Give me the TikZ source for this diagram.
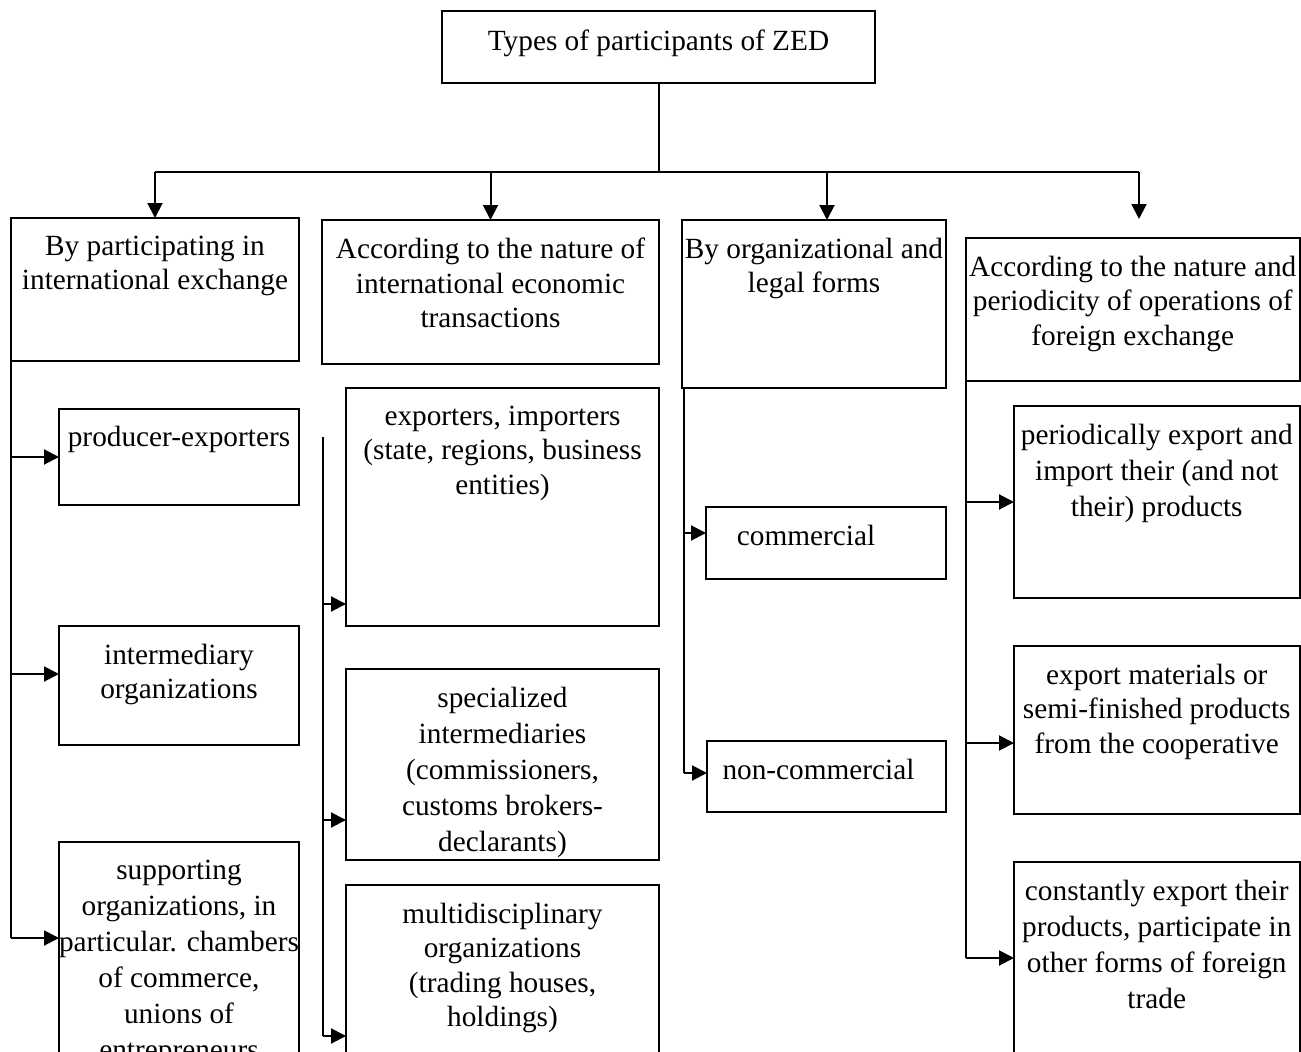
\documentclass[tikz,border=0pt]{standalone}
\usepackage{fontspec}
\setmainfont{Liberation Serif}
\usepackage{tikz}
\usetikzlibrary{positioning,calc}
\usetikzlibrary{arrows.meta}
\tikzset{
  box/.style={draw=black,line width=2pt,anchor=north west,inner sep=0pt,outer sep=0pt},
  txt/.style={anchor=north,align=center,inner sep=0pt,
    font=\fontsize{29.3}{34.5}\selectfont,execute at begin node=\strut},
  loose/.style={font=\fontsize{29.3}{36}\selectfont},
  ln/.style={draw=black,line width=2pt},
  arr/.style={draw=black,line width=2pt,-{Triangle[length=15pt,width=15pt]}},
}

\begin{document}
\begin{tikzpicture}[x=1pt,y=-1pt]
\useasboundingbox (0,0) rectangle (1301,1052);
\clip (0,0) rectangle (1301,1052);
% top
\node[box,minimum width=433,minimum height=72] (top) at (442,11) {};
\node[txt] (topt) at ([yshift=-14.8]top.north) {Types of participants of ZED};
% groups
\node[box,minimum width=288,minimum height=143] (b1) at (11,218) {};
\node[box,minimum width=337,minimum height=144] (b2) at (322,220) {};
\node[box,minimum width=264,minimum height=168] (b3) at (682,220) {};
\node[box,minimum width=333.5,minimum height=143] (b4) at (966,238) {};
\node[txt] (b1t) at ([yshift=-17.8]b1.north) {By participating in\\international exchange};
\node[txt] (b2t) at ([yshift=-17.8]b2.north) {According to the nature of\\international economic\\transactions};
\node[txt] (b3t) at ([yshift=-17.8]b3.north) {By organizational and\\legal forms};
\node[txt] (b4t) at ([yshift=-17.8]b4.north) {According to the nature and\\periodicity of operations of\\foreign exchange};
% column 1
\node[box,minimum width=240,minimum height=96] (p1) at (59,409) {};
\node[box,minimum width=240,minimum height=119] (p2) at (59,626) {};
\node[box,minimum width=240,minimum height=260] (p3) at (59,842) {};
\node[txt] (p1t) at ([yshift=-12.8]p1.north) {producer-exporters};
\node[txt] (p2t) at ([yshift=-17.8]p2.north) {intermediary\\organizations};
\node[txt,loose] (p3t) at ([yshift=-17.8]p3.north) {supporting\\organizations, in\\particular. chambers\\of commerce,\\unions of\\entrepreneurs};
% column 2
\node[box,minimum width=313,minimum height=238] (t1) at (346,388) {};
\node[box,minimum width=313,minimum height=191] (t2) at (346,669) {};
\node[box,minimum width=313,minimum height=215] (t3) at (346,885) {};
\node[txt] (t1t) at ([yshift=-17.8]t1.north) {exporters, importers\\(state, regions, business\\entities)};
\node[txt,loose] (t2t) at ([yshift=-17.8]t2.north) {specialized\\intermediaries\\(commissioners,\\customs brokers-\\declarants)};
\node[txt] (t3t) at ([yshift=-17.8]t3.north) {multidisciplinary\\organizations\\(trading houses,\\holdings)};
% column 3
\node[box,minimum width=240,minimum height=72] (f1) at (706,507) {};
\node[box,minimum width=239,minimum height=71] (f2) at (707,741) {};
\node[txt] (f1t) at ([xshift=-20,yshift=-13.8]f1.north) {commercial};
\node[txt] (f2t) at ([xshift=-8,yshift=-13.8]f2.north) {non-commercial};
% column 4
\node[box,minimum width=285.5,minimum height=192] (o1) at (1014,406) {};
\node[box,minimum width=285.5,minimum height=168] (o2) at (1014,646) {};
\node[box,minimum width=285.5,minimum height=240] (o3) at (1014,862) {};
\node[txt,loose] (o1t) at ([yshift=-17.8]o1.north) {periodically export and\\import their (and not\\their) products};
\node[txt] (o2t) at ([yshift=-17.8]o2.north) {export materials or\\semi-finished products\\from the cooperative};
\node[txt,loose] (o3t) at ([yshift=-17.8]o3.north) {constantly export their\\products, participate in\\other forms of foreign\\trade};
% tree
\coordinate (hub) at (top.south |- 0,172);
\coordinate (q4) at (1139,219);
\draw[ln] (top.south) -- (hub);
\draw[ln] (b1.north |- hub) -- (q4 |- hub);
\draw[arr] (b1.north |- hub) -- (b1.north);
\draw[arr] (b2.north |- hub) -- (b2.north);
\draw[arr] ([xshift=13]b3.north |- hub) -- ([xshift=13]b3.north);
\draw[arr] (q4 |- hub) -- (q4);
% branches 1
\draw[ln] (b1.south west) -- (b1.south west |- 0,938);
\draw[arr] (b1.south west |- p1.west) -- (p1.west);
\draw[arr] (b1.south west |- 0,674) -- (p2.west |- 0,674);
\draw[arr] (b1.south west |- 0,938) -- (p3.west |- 0,938);
% branches 2
\coordinate (m0) at (323,437);
\draw[ln] (m0) -- (m0 |- 0,1036);
\draw[arr] (m0 |- 0,604) -- (t1.west |- 0,604);
\draw[arr] (m0 |- 0,820) -- (t2.west |- 0,820);
\draw[arr] (m0 |- 0,1036) -- (t3.west |- 0,1036);
% branches 3
\coordinate (c0) at ([xshift=2]b3.south west);
\draw[ln] (c0) -- (c0 |- 0,773);
\draw[arr] (c0 |- 0,533) -- (f1.west |- 0,533);
\draw[arr] (c0 |- 0,773) -- (f2.west |- 0,773);
% branches 4
\draw[ln] (b4.south west) -- (b4.south west |- 0,958);
\draw[arr] (b4.south west |- 0,502) -- (o1.west |- 0,502);
\draw[arr] (b4.south west |- 0,743) -- (o2.west |- 0,743);
\draw[arr] (b4.south west |- 0,958) -- (o3.west |- 0,958);
\end{tikzpicture}
\end{document}
